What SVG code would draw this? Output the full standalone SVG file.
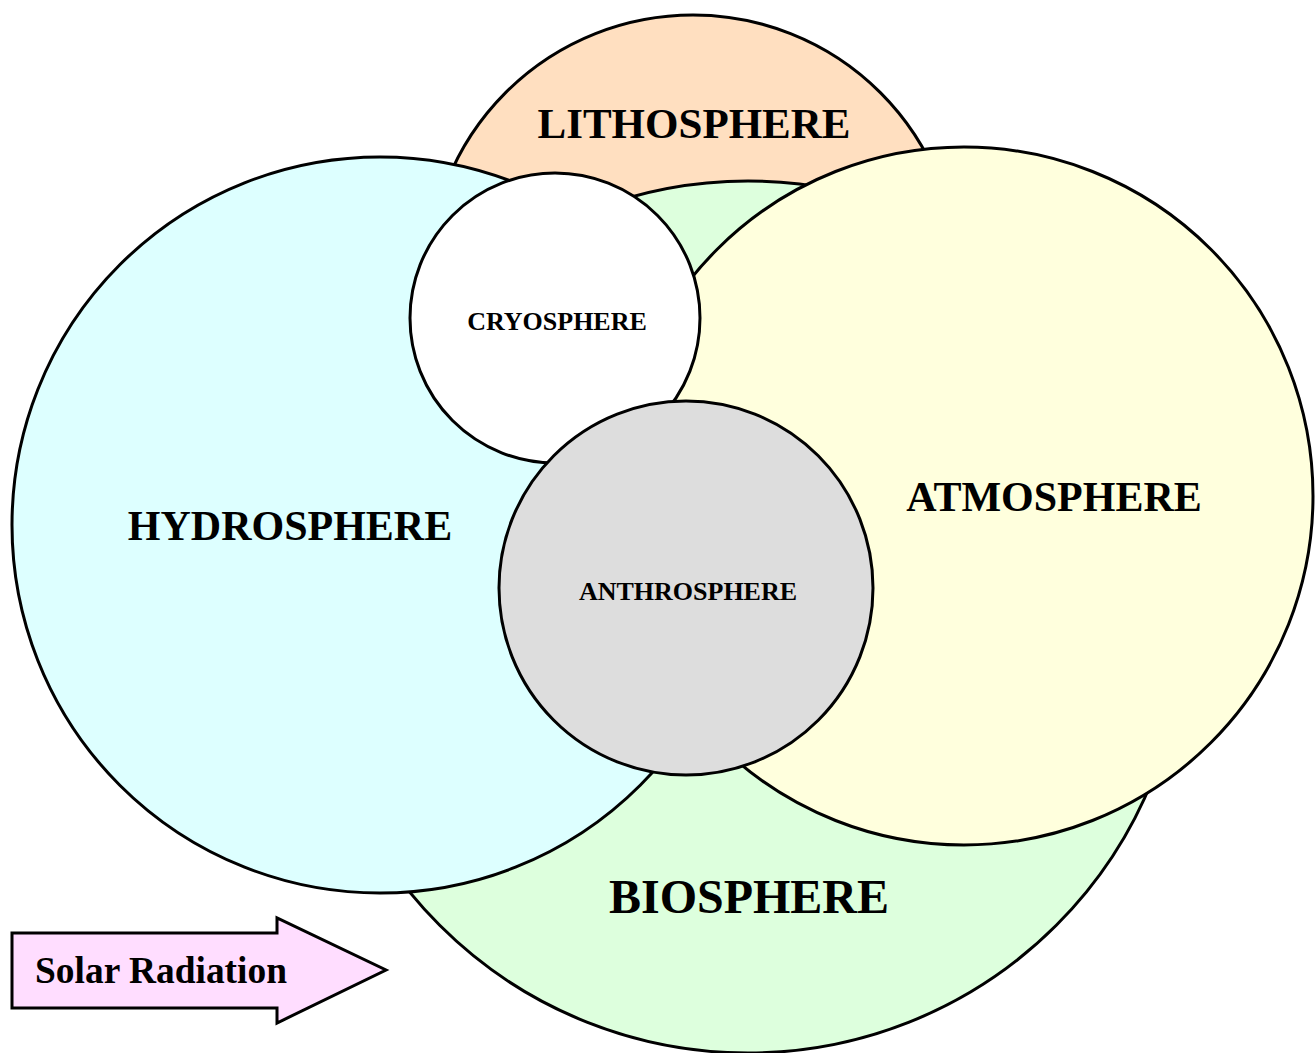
<svg xmlns="http://www.w3.org/2000/svg" width="1316" height="1053" viewBox="0 0 1316 1053">
<style>
  .sph { stroke: #000; stroke-width: 3; }
  .lbl { font-family: "Liberation Serif", "Times New Roman", serif; font-weight: bold; fill: #000; text-anchor: middle; }
</style>
<rect width="1316" height="1053" fill="#fff"/>
<g id="lithosphere">
  <circle class="sph" cx="693" cy="280" r="265" fill="#ffdfc0"/>
  <text class="lbl" x="694" y="138" font-size="43">LITHOSPHERE</text>
</g>
<g id="biosphere">
  <circle class="sph" cx="748" cy="617" r="436" fill="#ddffdd"/>
</g>
<g id="hydrosphere">
  <circle class="sph" cx="380" cy="525" r="368" fill="#ddffff"/>
  <text class="lbl" x="290" y="540" font-size="42">HYDROSPHERE</text>
</g>
<g id="atmosphere">
  <circle class="sph" cx="964" cy="496" r="349" fill="#ffffdd"/>
  <text class="lbl" x="1054" y="511" font-size="42">ATMOSPHERE</text>
</g>
<g id="biosphere-label">
  <text class="lbl" x="749" y="913" font-size="48">BIOSPHERE</text>
</g>
<g id="cryosphere">
  <circle class="sph" cx="555" cy="318" r="145" fill="#ffffff"/>
  <text class="lbl" x="557" y="330" font-size="26">CRYOSPHERE</text>
</g>
<g id="anthrosphere">
  <circle class="sph" cx="686" cy="588" r="187" fill="#dddddd"/>
  <text class="lbl" x="688" y="600" font-size="26">ANTHROSPHERE</text>
</g>
<g id="connectors"></g>
<g id="solar-radiation">
  <path d="M12,933 L277,933 L277,918 L386,970 L277,1023 L277,1008 L12,1008 Z" fill="#ffddff" stroke="#000" stroke-width="3" stroke-linejoin="miter"/>
  <text x="35" y="983" font-family="'Liberation Serif', 'Times New Roman', serif" font-weight="bold" font-size="37" fill="#000" textLength="252" lengthAdjust="spacingAndGlyphs">Solar Radiation</text>
</g>
</svg>
